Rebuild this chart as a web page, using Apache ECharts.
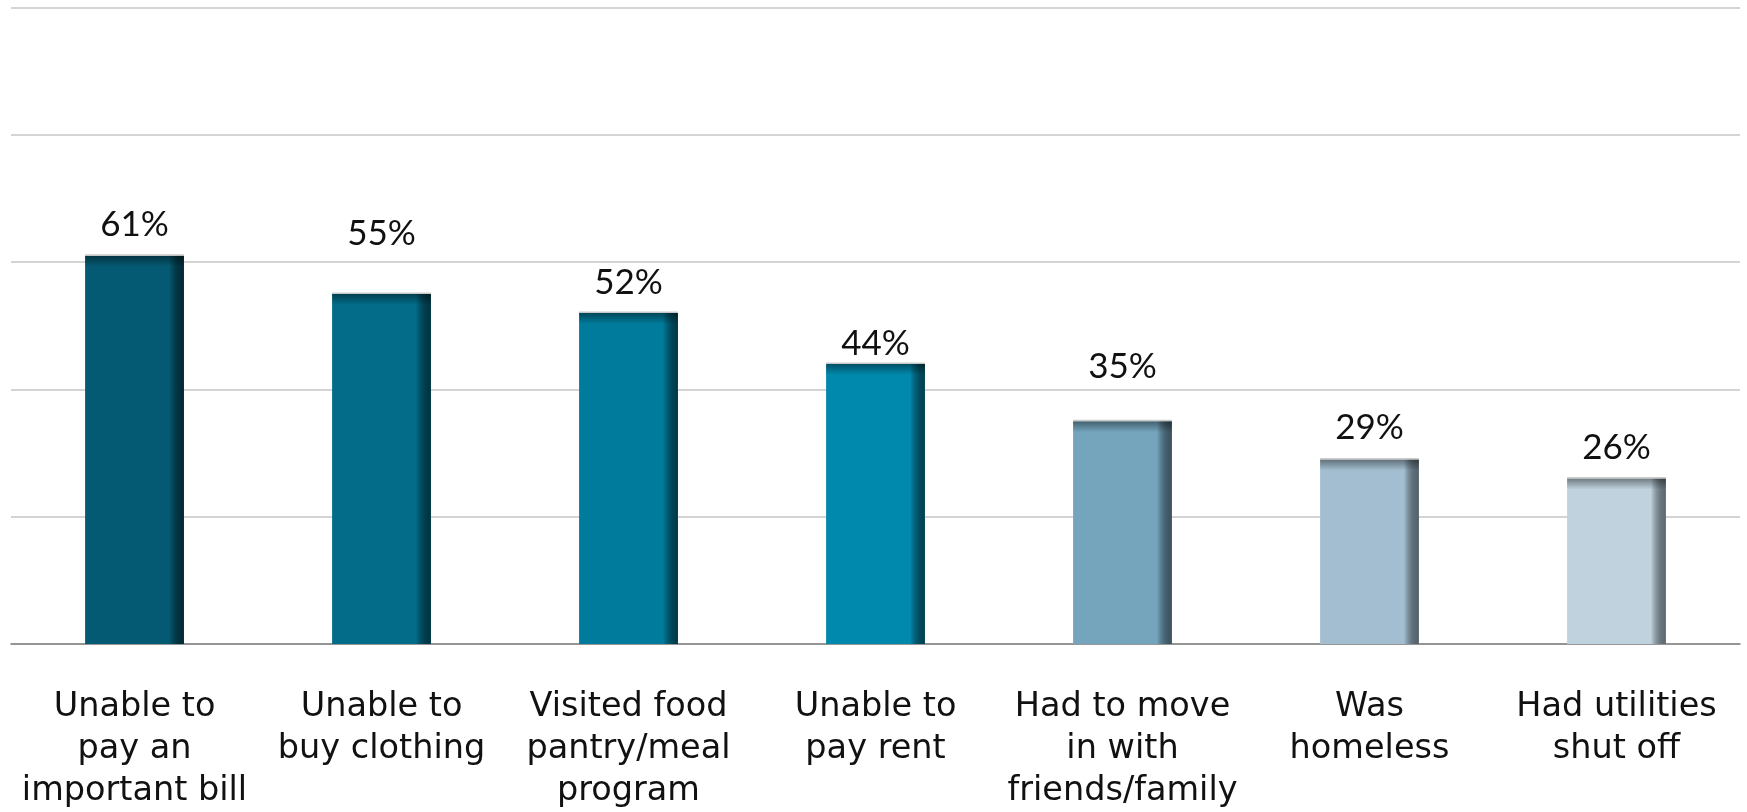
<!DOCTYPE html>
<html>
<head>
<meta charset="utf-8">
<style>
  html, body { margin: 0; padding: 0; background: #ffffff; }
  #chart { width: 1747px; height: 812px; }
</style>
<script src="https://cdn.jsdelivr.net/npm/echarts@6/dist/echarts.min.js"></script>
</head>
<body>
<div id="chart"></div>
<script>
// Hardships reported, share of respondents (%)
const categories = [
  'Unable to\npay an\nimportant bill',
  'Unable to\nbuy clothing',
  'Visited food\npantry/meal\nprogram',
  'Unable to\npay rent',
  'Had to move\nin with\nfriends/family',
  'Was\nhomeless',
  'Had utilities\nshut off'
];
const values = [61, 55, 52, 44, 35, 29, 26];

// per-bar styling
const barColors = ['#055a73', '#036c88', '#017b9b', '#0189ad', '#74a5bd', '#a3bed0', '#bfd2de'];
const edgeColors = ['#022a36', '#023442', '#023a4a', '#03404f', '#3f5562', '#56646e', '#5f6b74'];
// gap (px) between each value label's baseline and its bar top
const labelGaps = [19.6, 48.6, 19.3, 8.3, 42.7, 20, 19.3];

const chart = echarts.init(document.getElementById('chart'), null, { renderer: 'canvas' });

function renderBar(params, api) {
  const idx = api.value(0);
  const val = api.value(1);
  const top = api.coord([idx, val]);
  const bottom = api.coord([idx, 0]);
  const bw = api.size([1, 0])[0] * 0.4;
  const x = top[0] - bw / 2;
  const y = top[1];
  const h = bottom[1] - top[1];
  const edge = 15;
  const topShade = 11;
  return {
    type: 'group',
    children: [
      { type: 'rect', shape: { x: x, y: y, width: bw, height: h },
        style: { fill: barColors[idx] } },
      // darkened right edge
      { type: 'rect', shape: { x: x + bw - edge, y: y, width: edge, height: h },
        style: { fill: new echarts.graphic.LinearGradient(0, 0, 1, 0, [
          { offset: 0, color: 'rgba(0,0,0,0)' },
          { offset: 1, color: edgeColors[idx] }
        ]) } },
      // darkened top edge
      { type: 'rect', shape: { x: x, y: y, width: bw, height: topShade },
        style: { fill: new echarts.graphic.LinearGradient(0, 0, 0, 1, [
          { offset: 0, color: 'rgba(0,0,0,0.42)' },
          { offset: 1, color: 'rgba(0,0,0,0)' }
        ]) } },
      // light rim along the top
      { type: 'rect', shape: { x: x, y: y - 1.5, width: bw, height: 1.5 },
        style: { fill: '#c9c9c9' } },
      // value label
      { type: 'text', x: top[0], y: y - labelGaps[idx] + 6,
        style: { text: val + '%', align: 'center', verticalAlign: 'bottom',
          fill: '#111111', fontSize: 35,
          fontFamily: '"Liberation Sans Narrow", Lato, sans-serif' } }
    ]
  };
}

chart.setOption({
  animation: false,
  backgroundColor: '#ffffff',
  grid: { left: 11, right: 7, top: 7.5, bottom: 164.5 },
  xAxis: {
    type: 'category',
    data: categories,
    axisTick: { show: false },
    axisLine: { lineStyle: { color: '#808080', width: 1.5 } },
    axisLabel: {
      interval: 0,
      margin: 42,
      color: '#111111',
      fontSize: 33.5,
      lineHeight: 42,
      fontFamily: '"DejaVu Sans", sans-serif',
      align: 'center'
    }
  },
  yAxis: {
    type: 'value',
    min: 0,
    max: 100,
    interval: 20,
    axisLabel: { show: false },
    axisLine: { show: false },
    axisTick: { show: false },
    splitLine: { lineStyle: { color: '#c6c6c6', width: 1.5 } }
  },
  series: [{
    type: 'custom',
    renderItem: renderBar,
    encode: { x: 0, y: 1 },
    data: values.map((v, i) => [i, v]),
    z: 3
  }]
});
</script>
</body>
</html>
